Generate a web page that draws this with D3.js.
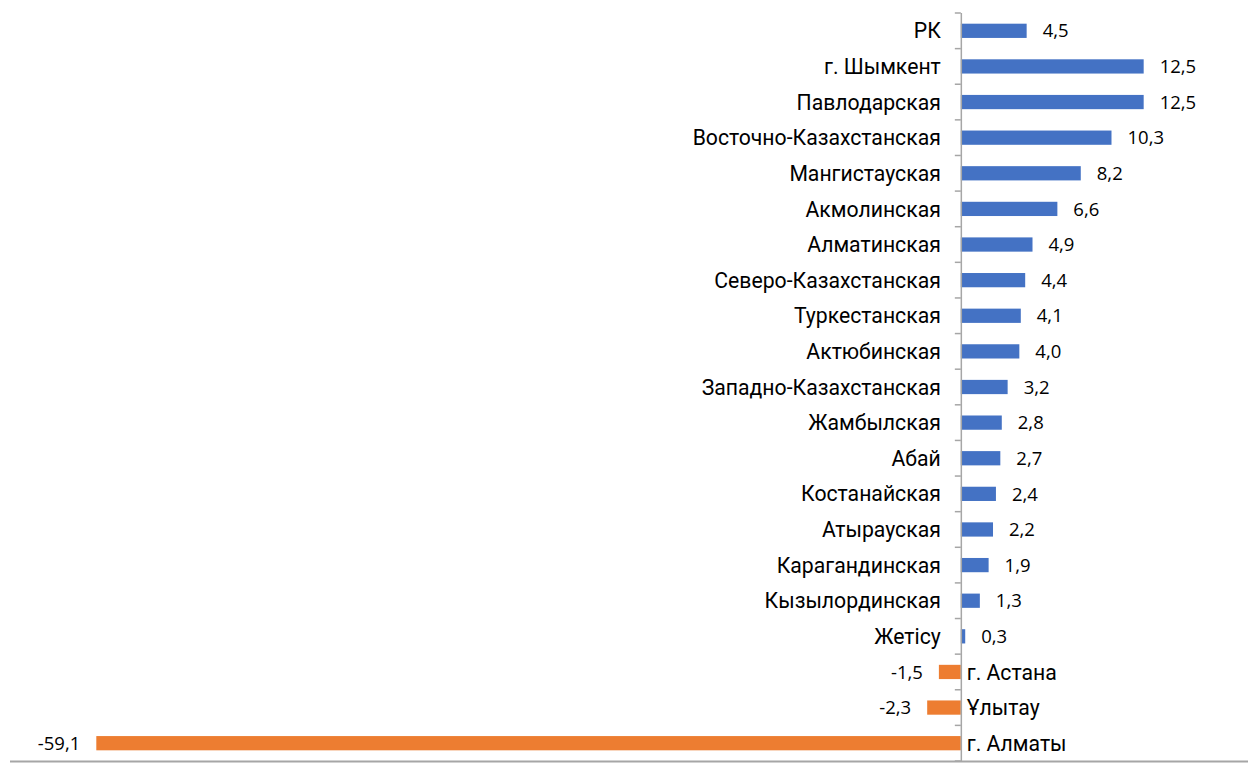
<!DOCTYPE html>
<html>
<head>
<meta charset="utf-8">
<script src="https://cdn.jsdelivr.net/npm/d3@7"></script>
<style>
  body { margin: 0; background: #fff; }
  .cat { font-family: Roboto, sans-serif; font-size: 21.2px; fill: #000; }
  .val { font-family: "Open Sans", sans-serif; font-size: 18.5px; fill: #000; }
</style>
</head>
<body>
<svg id="chart" width="1248" height="763"></svg>
<script>
// regions, top to bottom
var regions = ["РК", "г. Шымкент", "Павлодарская", "Восточно-Казахстанская", "Мангистауская",
  "Акмолинская", "Алматинская", "Северо-Казахстанская", "Туркестанская", "Актюбинская",
  "Западно-Казахстанская", "Жамбылская", "Абай", "Костанайская", "Атырауская",
  "Карагандинская", "Кызылординская", "Жетісу", "г. Астана", "Ұлытау", "г. Алматы"];
var values = [4.5, 12.5, 12.5, 10.3, 8.2, 6.6, 4.9, 4.4, 4.1, 4.0,
  3.2, 2.8, 2.7, 2.4, 2.2, 1.9, 1.3, 0.3, -1.5, -2.3, -59.1];

var data = regions.map((r, i) => ({ name: r, value: values[i] }));

var svg = d3.select('svg#chart');

var x = d3.scaleLinear()
  .domain([-65, 19.7])
  .range([10, 1249]);

var y = d3.scaleBand()
  .domain(regions)
  .range([13, 761])
  .paddingInner(0.6)
  .paddingOuter(0.3);

var fmt = v => d3.format(".1f")(v).replace('.', ',').replace('−', '-');

// bars
svg.selectAll('rect.bar').data(data).enter().append('rect')
  .attr('class', 'bar')
  .attr('x', d => x(Math.min(0, d.value)))
  .attr('y', d => y(d.name))
  .attr('width', d => Math.abs(x(d.value) - x(0)))
  .attr('height', y.bandwidth())
  .attr('fill', d => d.value < 0 ? '#ED7D31' : '#4472C4');

// bottom line
svg.append('line')
  .attr('x1', 10).attr('x2', 1248)
  .attr('y1', 761.5).attr('y2', 761.5)
  .attr('stroke', '#a6a6a6').attr('stroke-width', 2);

// vertical axis at zero with ticks between categories
svg.append('line')
  .attr('x1', x(0) + 0.5).attr('x2', x(0) + 0.5)
  .attr('y1', 13).attr('y2', 761)
  .attr('stroke', '#a6a6a6').attr('stroke-width', 1.5);

var step = y.step();
svg.selectAll('line.tick').data(d3.range(regions.length + 1)).enter().append('line')
  .attr('class', 'tick')
  .attr('x1', x(0) - 6).attr('x2', x(0))
  .attr('y1', i => 13 + i * step).attr('y2', i => 13 + i * step)
  .attr('stroke', '#a6a6a6').attr('stroke-width', 1.5);

// category labels
svg.selectAll('text.cat').data(data).enter().append('text')
  .attr('class', 'cat')
  .attr('x', d => d.value < 0 ? x(0) + 6 : x(0) - 20)
  .attr('y', d => y(d.name) + y.bandwidth() / 2)
  .attr('dy', '0.36em')
  .attr('text-anchor', d => d.value < 0 ? 'start' : 'end')
  .text(d => d.name);

// value labels
svg.selectAll('text.val').data(data).enter().append('text')
  .attr('class', 'val')
  .attr('x', d => d.value < 0 ? x(d.value) - 16 : x(d.value) + 16)
  .attr('y', d => y(d.name) + y.bandwidth() / 2)
  .attr('dy', '0.36em')
  .attr('text-anchor', d => d.value < 0 ? 'end' : 'start')
  .text(d => fmt(d.value));
</script>
</body>
</html>
